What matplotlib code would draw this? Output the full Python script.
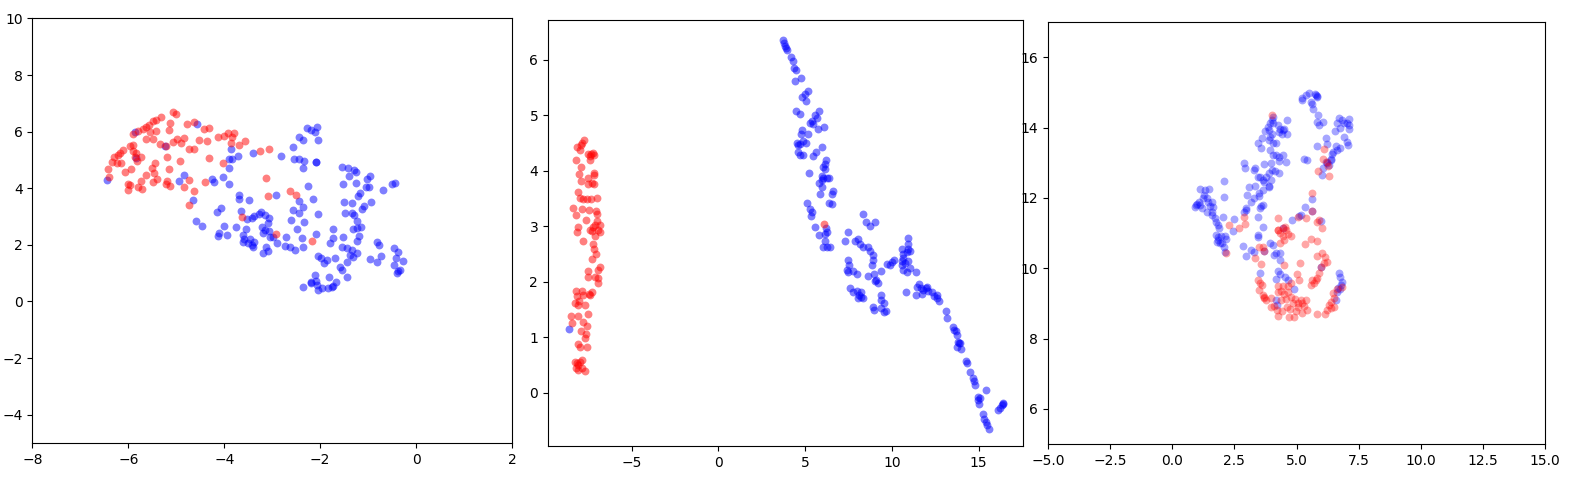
import numpy as np
import matplotlib
matplotlib.use("Agg")
import matplotlib.pyplot as plt

# ---- panel 1 (x, y) points ----
p1_red = [(-5.06, 6.71), (-5.01, 6.61), (-5.31, 6.51), (-5.43, 6.41), (-5.48, 6.39), (-5.13, 6.30),
          (-4.78, 6.26), (-4.64, 6.34), (-5.58, 6.24), (-5.64, 6.18), (-5.69, 6.11), (-5.55, 6.00),
          (-5.43, 6.02), (-5.81, 6.01), (-5.91, 5.92), (-5.15, 6.06), (-4.42, 6.08), (-4.31, 6.12),
          (-5.63, 5.75), (-5.49, 5.75), (-4.98, 5.73), (-4.85, 5.78), (-5.08, 5.64), (-4.91, 5.59),
          (-4.52, 5.71), (-4.36, 5.68), (-4.13, 5.82), (-4.00, 5.85), (-3.93, 5.94), (-3.79, 5.94),
          (-3.84, 5.80), (-3.85, 5.61), (-3.69, 5.53), (-3.57, 5.68), (-5.35, 5.55), (-5.22, 5.49),
          (-5.96, 5.49), (-5.90, 5.53), (-5.91, 5.33), (-4.73, 5.40), (-4.64, 5.40), (-6.11, 5.35),
          (-6.17, 5.24), (-6.21, 5.18), (-6.31, 5.12), (-6.35, 4.94), (-6.24, 4.88), (-6.16, 4.88),
          (-5.84, 5.26), (-5.86, 5.12), (-5.74, 5.12), (-5.83, 4.98), (-5.20, 5.09), (-4.31, 5.07),
          (-4.92, 4.96), (-4.02, 4.88), (-5.45, 4.91), (-5.51, 4.71), (-5.47, 4.55), (-5.15, 4.69),
          (-5.95, 4.68), (-6.07, 4.59), (-6.42, 4.68), (-5.63, 4.47), (-6.40, 4.39), (-5.74, 4.26),
          (-5.40, 4.33), (-5.48, 4.22), (-5.20, 4.26), (-5.22, 4.15), (-5.13, 4.08), (-6.00, 4.14),
          (-5.97, 4.12), (-6.00, 3.94), (-5.79, 4.03), (-5.72, 3.97), (-4.73, 4.29), (-4.85, 4.03),
          (-4.40, 4.22), (-4.63, 3.90), (-4.73, 3.41), (-3.64, 3.00), (-3.26, 5.32), (-3.07, 5.39),
          (-3.14, 4.38), (-3.09, 3.73), (-2.62, 3.89), (-2.51, 3.77), (-2.93, 2.39), (-2.18, 2.15)]

p1_blue = [(-5.86, 6.00), (-4.56, 6.27), (-5.24, 5.51), (-5.85, 5.06), (-6.44, 4.29), (-4.83, 4.48),
           (-4.95, 4.27), (-4.26, 4.33), (-4.21, 4.23), (-4.03, 4.41), (-3.90, 4.15), (-3.87, 5.38),
           (-3.72, 5.15), (-3.90, 5.04), (-3.83, 5.04), (-3.90, 4.71), (-3.41, 5.24), (-3.70, 3.76),
           (-3.69, 3.62), (-3.48, 3.57), (-4.65, 3.59), (-4.06, 3.29), (-4.15, 3.15), (-3.66, 3.20),
           (-3.53, 2.91), (-3.42, 2.94), (-4.59, 2.83), (-4.47, 2.67), (-4.00, 2.66), (-3.76, 2.63),
           (-2.82, 5.14), (-2.57, 5.45), (-2.45, 5.80), (-2.35, 5.69), (-2.28, 6.12), (-2.20, 6.06),
           (-2.11, 5.98), (-2.07, 6.18), (-2.04, 5.71), (-2.54, 5.04), (-2.44, 5.02), (-2.34, 4.96),
           (-2.35, 4.71), (-2.09, 4.94), (-2.08, 4.93), (-2.25, 4.09), (-2.93, 3.76), (-2.44, 3.56),
           (-2.14, 3.61), (-2.35, 3.35), (-2.56, 3.23), (-2.45, 3.12), (-2.05, 3.09), (-2.60, 2.88),
           (-2.33, 2.80), (-2.49, 2.57), (-2.09, 2.39), (-2.37, 2.23), (-2.71, 2.27), (-2.35, 1.94),
           (-2.53, 1.82), (-2.63, 1.94), (-2.73, 1.97), (-2.91, 2.08), (-3.05, 2.29), (-3.06, 2.50),
           (-3.08, 2.76), (-3.06, 2.96), (-3.15, 3.06), (-3.23, 3.17), (-3.28, 3.08), (-3.39, 3.02),
           (-3.12, 1.91), (-3.20, 1.70), (-3.08, 1.78), (-3.22, 2.64), (-3.15, 2.53), (-3.19, 2.42),
           (-2.99, 2.27), (-2.35, 0.52), (-2.20, 0.68), (-2.09, 0.74), (-2.07, 0.58), (-4.12, 2.41),
           (-4.14, 2.33), (-3.95, 2.35), (-3.62, 2.35), (-3.58, 2.21), (-3.60, 2.11), (-3.46, 2.21),
           (-3.51, 2.06), (-3.43, 2.00), (-3.41, 1.94), (-3.39, 2.11), (-3.55, 2.55),
           (-1.54, 4.74), (-1.43, 4.71), (-1.29, 4.65), (-1.26, 4.59), (-1.40, 4.45), (-1.52, 4.14),
           (-1.26, 4.18), (-1.03, 4.33), (-0.96, 4.45), (-1.05, 4.06), (-0.98, 4.06), (-1.17, 3.82),
           (-1.21, 3.73), (-0.68, 3.94), (-0.51, 4.14), (-0.44, 4.17), (-1.50, 3.53), (-1.33, 3.47),
           (-0.95, 3.50), (-1.12, 3.27), (-1.08, 3.37), (-1.48, 3.14), (-1.33, 3.14), (-1.29, 3.06),
           (-1.23, 2.85), (-1.14, 2.64), (-1.24, 2.58), (-1.31, 2.55), (-1.20, 2.33), (-1.23, 2.15),
           (-1.73, 2.55), (-1.73, 2.23), (-1.80, 2.06), (-1.53, 2.27), (-1.55, 1.94), (-1.45, 1.88),
           (-1.34, 1.82), (-1.24, 1.70), (-1.38, 1.64), (-1.31, 1.56), (-1.45, 1.41), (-1.69, 1.52),
           (-1.86, 1.47), (-1.93, 1.35), (-1.99, 1.52), (-2.04, 1.61), (-1.59, 1.23), (-1.54, 1.11),
           (-1.45, 0.85), (-1.82, 0.88), (-1.67, 0.70), (-1.76, 0.52), (-1.83, 0.47), (-1.97, 0.46),
           (-2.04, 0.41), (-0.81, 2.11), (-0.78, 1.99), (-0.97, 1.49), (-0.82, 1.41), (-0.74, 1.61),
           (-0.47, 1.88), (-0.38, 1.76), (-0.42, 1.53), (-0.47, 1.29), (-0.28, 1.44), (-0.37, 1.06),
           (-0.34, 1.11), (-0.39, 1.00), (-2.11, 0.94), (-2.20, 0.64), (-1.73, 0.56)]

# ---- panel 2 ----
p2_red = [(-7.73, 4.56), (-7.85, 4.50), (-7.93, 4.46), (-8.17, 4.43), (-7.98, 4.37), (-7.50, 4.31),
          (-7.35, 4.31), (-7.21, 4.32), (-7.41, 4.27), (-7.16, 4.28), (-8.21, 4.19), (-7.41, 4.19),
          (-7.93, 4.07), (-8.02, 3.95), (-7.18, 3.96), (-7.16, 3.92), (-7.54, 3.87), (-7.93, 3.82),
          (-7.50, 3.76), (-7.31, 3.79), (-7.16, 3.76), (-8.08, 3.62), (-7.98, 3.52), (-7.79, 3.50),
          (-7.56, 3.49), (-7.37, 3.50), (-6.98, 3.52), (-8.37, 3.34), (-7.89, 3.32), (-7.45, 3.29),
          (-7.08, 3.27), (-6.98, 3.23), (-8.23, 3.20), (-7.66, 3.11), (-7.02, 3.09), (-7.12, 3.03),
          (-6.83, 3.03), (-7.25, 2.99), (-8.08, 2.98), (-8.17, 2.89), (-7.41, 2.94), (-7.31, 2.92),
          (-6.96, 2.93), (-6.83, 2.89), (-7.12, 2.83), (-7.79, 2.74), (-7.21, 2.69), (-7.16, 2.59),
          (-7.06, 2.51), (-7.31, 2.42), (-6.83, 2.27), (-6.96, 2.21), (-7.54, 2.19), (-7.50, 2.08),
          (-7.12, 2.08), (-6.93, 2.07), (-6.96, 1.98), (-8.23, 1.83), (-8.17, 1.74), (-7.85, 1.84),
          (-7.79, 1.76), (-7.46, 1.78), (-7.31, 1.82), (-7.41, 1.76), (-8.27, 1.62), (-8.04, 1.65),
          (-8.08, 1.59), (-7.69, 1.59), (-8.12, 1.39), (-7.50, 1.42), (-8.52, 1.39), (-8.46, 1.26),
          (-7.79, 1.27), (-7.93, 1.12), (-7.60, 1.20), (-7.66, 1.06), (-7.69, 0.98), (-8.12, 0.88),
          (-7.98, 0.82), (-7.60, 0.82), (-8.27, 0.56), (-8.17, 0.53), (-8.08, 0.50), (-7.98, 0.55),
          (-7.89, 0.59), (-8.23, 0.44), (-7.85, 0.45), (-7.69, 0.39), (-8.12, 0.41), (6.08, 3.05)]

p2_blue = [(-8.60, 1.15),
           (3.74, 6.36), (3.78, 6.30), (3.83, 6.25), (3.89, 6.21), (3.97, 6.18), (4.16, 6.06),
           (4.27, 5.99), (4.35, 5.86), (4.47, 5.82), (4.75, 5.67), (4.41, 5.62), (5.14, 5.44),
           (4.99, 5.38), (4.79, 5.34), (5.04, 5.26), (4.50, 5.08), (4.70, 5.03), (5.81, 5.08),
           (5.56, 5.00), (5.71, 4.95), (5.37, 4.90), (5.27, 4.86), (5.43, 4.85), (6.08, 4.79),
           (5.75, 4.75), (4.79, 4.74), (4.74, 4.67), (5.18, 4.67), (4.54, 4.50), (4.60, 4.46),
           (4.70, 4.48), (4.89, 4.53), (5.04, 4.50), (5.98, 4.43), (4.60, 4.34), (4.70, 4.28),
           (4.89, 4.28), (5.60, 4.34), (5.43, 4.26), (6.20, 4.20), (6.14, 4.13), (6.04, 4.07),
           (6.14, 4.04), (5.24, 3.96), (5.95, 3.91), (6.04, 3.88), (6.23, 3.88), (6.39, 3.87),
           (5.81, 3.79), (5.95, 3.84), (5.98, 3.71), (5.85, 3.58), (6.62, 3.64), (6.54, 3.58),
           (5.12, 3.43), (5.27, 3.31), (5.37, 3.25), (5.31, 3.19), (6.39, 3.43), (6.52, 3.40),
           (5.56, 2.99), (6.20, 2.97), (6.23, 2.89), (6.14, 2.86), (5.81, 2.85), (6.14, 2.74),
           (6.23, 2.63), (6.04, 2.63), (6.43, 2.62), (7.48, 2.89), (7.29, 2.74), (7.87, 2.74),
           (8.06, 2.78), (8.16, 2.68), (8.35, 2.63), (8.31, 3.23), (8.50, 3.08), (8.73, 3.01),
           (9.02, 3.07), (8.64, 2.62), (8.73, 2.56), (8.92, 2.48), (8.89, 2.39), (8.83, 2.31),
           (7.48, 2.40), (7.54, 2.30), (7.39, 2.22), (7.48, 2.18), (7.73, 2.20), (7.96, 2.15),
           (8.64, 2.10), (8.98, 2.15), (9.08, 2.04), (9.02, 2.01), (9.21, 1.98), (9.35, 2.20),
           (9.69, 2.33), (9.88, 2.30), (10.02, 2.36), (10.12, 2.39), (7.58, 1.89), (7.77, 1.82),
           (8.00, 1.83), (8.12, 1.77), (8.20, 1.72), (8.31, 1.70), (8.06, 1.70), (8.20, 1.82),
           (8.89, 1.54), (8.96, 1.50), (9.35, 1.77), (9.40, 1.68), (9.54, 1.62), (9.40, 1.52),
           (9.65, 1.47), (9.54, 1.45), (10.56, 2.59), (10.65, 2.50), (10.56, 2.37), (10.65, 2.43),
           (10.85, 2.53), (10.94, 2.59), (10.90, 2.79), (10.94, 2.68), (11.04, 2.56), (10.75, 2.34),
           (10.94, 2.37), (10.56, 2.30), (10.65, 2.22), (10.85, 2.18), (11.04, 2.25), (11.38, 2.17),
           (10.81, 1.82), (11.58, 1.96), (11.46, 1.90), (11.65, 1.89), (11.81, 1.86), (11.96, 1.88),
           (12.09, 1.84), (12.04, 1.90), (11.38, 1.76), (11.71, 1.78), (12.34, 1.82), (12.42, 1.74),
           (12.58, 1.71), (12.73, 1.66), (12.61, 1.76), (13.11, 1.47), (13.19, 1.35),
           (13.50, 1.18), (13.59, 1.14), (13.69, 1.11), (13.73, 1.05), (13.82, 0.92), (13.88, 0.89),
           (13.77, 0.83), (14.01, 0.79), (13.92, 0.89), (14.30, 0.57), (14.34, 0.53), (14.50, 0.38),
           (14.65, 0.27), (14.73, 0.21), (14.78, 0.14), (15.42, 0.05), (14.94, -0.07), (14.98, -0.13),
           (15.03, -0.21), (15.07, -0.10), (15.23, -0.38), (15.30, -0.47), (15.42, -0.53),
           (15.49, -0.59), (15.61, -0.65), (16.13, -0.31), (16.22, -0.27), (16.32, -0.22),
           (16.42, -0.18), (16.38, -0.21)]

# ---- panel 3 ----
p3_red = [(4.02, 14.35), (5.64, 12.14), (5.04, 11.46), (5.61, 11.63), (2.87, 11.45), (4.27, 11.42),
          (2.28, 11.23), (2.69, 11.13), (4.44, 11.13), (6.10, 13.40), (6.08, 13.10), (6.21, 13.03),
          (6.26, 12.90), (5.86, 12.77), (6.30, 12.62), (5.37, 11.42), (5.84, 11.32), (5.90, 11.37),
          (6.04, 11.13), (2.94, 11.27), (4.27, 11.09), (2.18, 10.44), (3.64, 10.61), (3.51, 10.61),
          (3.68, 10.50), (3.31, 10.28), (3.58, 10.11), (4.48, 10.09), (4.24, 11.09), (4.35, 11.01),
          (4.57, 11.09), (4.64, 10.97), (4.77, 10.92), (4.44, 10.92), (4.35, 10.71), (4.51, 10.80),
          (5.33, 10.69), (5.57, 10.82), (5.84, 10.78), (5.13, 10.16), (5.01, 9.84), (5.11, 9.67),
          (5.81, 10.35), (6.04, 10.42), (6.13, 10.31), (6.21, 10.19), (6.10, 10.14), (5.97, 10.04),
          (5.90, 9.87), (5.84, 9.71), (5.77, 9.67), (5.64, 9.67), (5.60, 9.52), (5.70, 9.57),
          (6.46, 9.29), (6.63, 9.40), (6.50, 9.14), (6.37, 9.05), (6.30, 8.96), (6.37, 8.86),
          (6.21, 8.81), (6.50, 8.91), (6.13, 8.70), (5.84, 8.70), (6.83, 9.46), (3.45, 9.67),
          (3.55, 9.59), (3.60, 9.52), (3.51, 9.38), (3.64, 9.24), (3.71, 9.14), (3.78, 9.10),
          (3.68, 9.17), (3.98, 8.89), (4.11, 8.93), (4.22, 8.81), (4.24, 8.64), (4.40, 8.77),
          (4.61, 8.89), (4.75, 8.83), (4.68, 8.60), (4.91, 8.60), (4.97, 8.77), (5.04, 8.89),
          (5.17, 9.10), (5.24, 9.02), (5.37, 9.10), (5.30, 8.93), (5.41, 8.81), (5.24, 8.72),
          (5.04, 9.00), (4.24, 9.50), (4.38, 9.36), (4.27, 9.33), (4.44, 9.50), (4.51, 9.27),
          (4.57, 9.12), (4.38, 9.10), (4.64, 9.50), (4.77, 9.57), (4.64, 9.33), (4.77, 9.17),
          (4.93, 9.12), (4.84, 9.00), (3.98, 9.14), (4.53, 11.18)]

p3_blue = [(5.24, 14.83), (5.37, 14.92), (5.50, 14.97), (5.21, 14.78), (5.57, 14.73), (4.04, 14.30),
           (4.02, 14.21), (3.94, 14.12), (3.84, 14.02), (3.88, 13.93), (3.75, 13.91), (4.07, 14.12),
           (4.24, 14.07), (4.34, 13.97), (4.31, 13.88), (4.42, 13.83), (4.51, 13.97), (4.60, 14.21),
           (4.60, 13.81), (4.44, 13.93), (4.02, 13.83), (3.94, 13.74), (4.07, 13.57), (4.18, 13.57),
           (3.88, 13.66), (3.61, 13.69), (3.45, 13.57), (3.58, 13.41), (3.94, 13.36), (4.04, 13.22),
           (4.18, 13.22), (4.31, 13.17), (4.44, 13.22), (4.28, 13.06), (4.58, 13.03), (5.30, 13.10),
           (5.44, 13.07), (2.89, 12.98), (2.94, 12.84), (3.71, 12.95), (3.98, 12.98), (4.02, 12.79),
           (4.31, 12.72), (4.15, 12.77), (3.88, 12.70), (3.78, 12.60), (3.98, 12.52), (3.64, 12.52),
           (3.54, 12.60), (3.45, 12.60), (3.27, 12.79), (3.35, 12.84), (3.71, 12.46), (3.88, 12.32),
           (3.91, 12.34), (3.64, 12.22), (2.09, 12.49), (3.35, 12.34), (3.09, 12.30), (3.02, 12.08),
           (3.27, 12.01), (3.49, 12.13), (3.51, 12.05), (2.08, 12.03), (3.18, 11.89), (2.95, 11.70),
           (2.88, 11.61), (2.98, 11.65), (3.58, 11.77), (3.64, 11.80), (3.54, 11.70), (3.45, 11.45),
           (1.10, 12.25), (1.32, 12.22), (1.49, 12.24), (1.28, 12.08), (1.39, 12.01), (1.23, 12.01),
           (1.45, 11.89), (1.59, 11.89), (1.63, 11.75), (1.52, 11.77), (1.06, 11.89), (0.99, 11.82),
           (0.92, 11.75), (0.96, 11.79), (1.10, 11.79), (1.19, 11.70), (1.39, 11.61), (1.59, 11.61),
           (1.59, 11.51), (1.72, 11.42), (1.76, 11.32), (1.85, 11.23), (1.89, 11.13), (2.03, 11.45),
           (2.48, 11.39), (3.64, 11.18), (5.61, 11.98), (5.33, 11.75), (5.11, 11.48), (5.17, 11.51),
           (4.80, 11.37), (5.61, 11.63), (4.44, 11.13), (5.77, 14.92), (5.81, 14.87), (5.73, 14.95),
           (5.84, 14.89), (5.64, 14.68), (5.68, 14.54), (5.86, 14.35), (5.84, 14.16), (5.90, 14.07),
           (6.08, 14.16), (6.70, 14.26), (6.63, 14.12), (6.83, 14.21), (6.90, 14.12), (7.12, 14.23),
           (7.03, 14.12), (7.10, 14.07), (7.10, 13.97), (6.53, 13.91), (6.77, 14.00), (6.17, 13.71),
           (6.21, 13.53), (5.81, 13.48), (6.90, 13.72), (7.03, 13.60), (7.06, 13.50), (6.57, 13.47),
           (6.76, 13.43), (6.61, 13.36), (6.47, 13.31), (6.41, 13.24), (6.37, 13.12), (6.17, 13.03),
           (6.24, 12.98), (6.30, 12.93), (6.08, 12.84), (6.04, 12.65), (6.39, 13.07), (5.98, 11.35),
           (1.75, 10.94), (1.85, 10.90), (1.98, 10.92), (2.12, 10.92), (2.18, 10.82), (1.79, 10.75),
           (1.92, 10.71), (2.02, 10.71), (1.85, 10.80), (2.09, 10.59), (2.14, 10.47), (2.45, 11.07),
           (2.85, 10.63), (3.18, 10.52), (3.29, 10.47), (2.98, 10.35), (3.45, 10.94), (3.47, 10.90),
           (3.68, 10.50), (3.55, 9.85), (3.95, 10.71), (4.04, 10.66), (4.18, 10.42), (4.35, 10.44),
           (4.35, 10.23), (4.27, 9.93), (4.18, 9.68), (4.55, 9.74), (4.64, 9.67), (4.91, 9.40),
           (4.35, 9.84), (4.08, 10.38), (5.97, 10.04), (6.70, 9.85), (6.77, 9.74), (6.83, 9.62),
           (6.79, 9.52), (6.74, 9.40), (6.61, 9.31), (6.57, 9.10), (6.66, 9.43), (4.18, 9.10),
           (4.22, 8.96)]


def draw(ax, red, blue, alpha):
    bx, by = np.array(blue).T
    rx, ry = np.array(red).T
    ax.scatter(bx, by, c='blue', s=32, alpha=alpha, linewidths=0)
    ax.scatter(rx, ry, c='red', s=32, alpha=alpha, linewidths=0)


fig = plt.figure(figsize=(15.7, 4.8), dpi=100)

ax1 = fig.add_axes([0.0207, 0.0771, 0.3054, 0.8844])
draw(ax1, p1_red, p1_blue, 0.5)
ax1.set_xlim(-8, 2)
ax1.set_ylim(-5, 10)

ax2 = fig.add_axes([0.3490, 0.0708, 0.3025, 0.8875])
draw(ax2, p2_red, p2_blue, 0.5)
ax2.set_xlim(-9.83, 17.55)
ax2.set_ylim(-0.96, 6.72)

ax3 = fig.add_axes([0.6675, 0.0750, 0.3166, 0.8790])
draw(ax3, p3_red, p3_blue, 0.35)
ax3.set_xlim(-5, 15)
ax3.set_ylim(5, 17)

fig.savefig('out.png', dpi=100)
